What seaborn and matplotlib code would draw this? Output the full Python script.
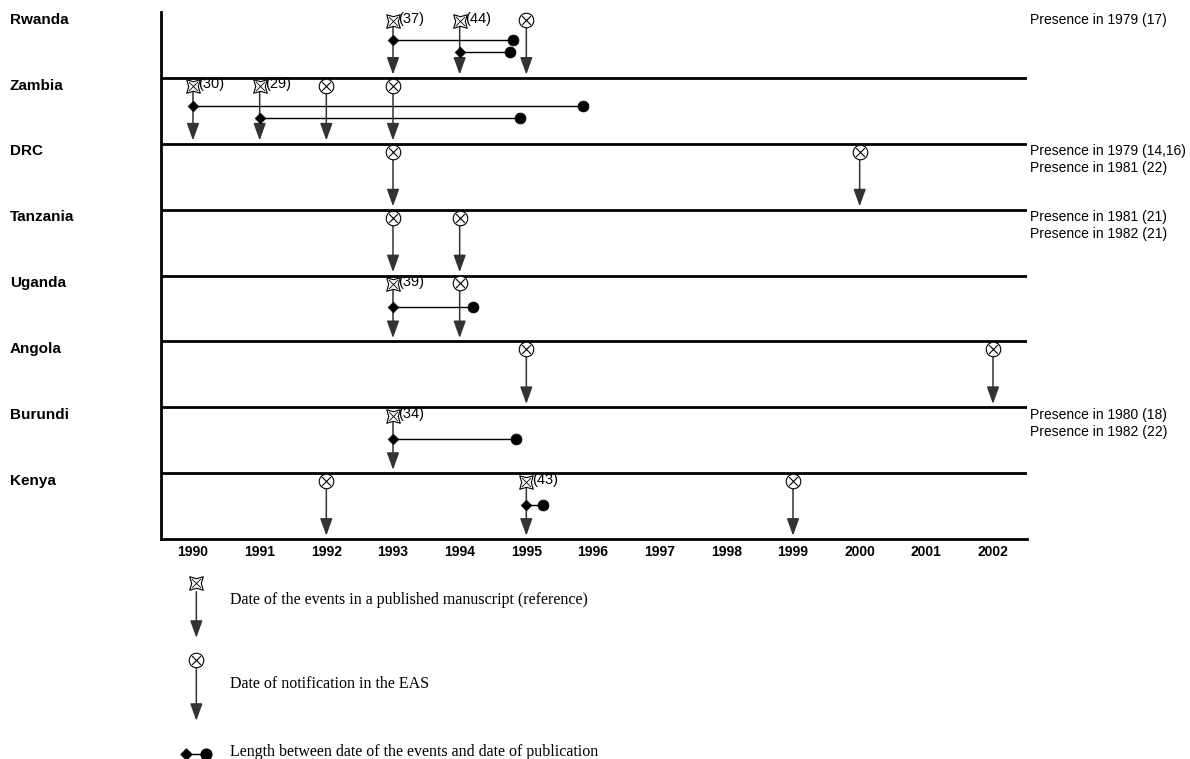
import numpy as np
import pandas as pd
import matplotlib
matplotlib.use("Agg")
import matplotlib.pyplot as plt
import seaborn as sns

# ---------------- data ----------------
countries = ["Rwanda", "Zambia", "DRC", "Tanzania", "Uganda", "Angola", "Burundi", "Kenya"]
years = list(range(1990, 2003))

# date of the events in a published manuscript (reference) and its publication date
ref_country = ["Rwanda", "Rwanda", "Zambia", "Zambia", "Uganda", "Burundi", "Kenya"]
ref_year = [1993, 1994, 1990, 1991, 1993, 1993, 1995]
ref_publication = [1994.8, 1994.75, 1995.85, 1994.9, 1994.2, 1994.85, 1995.25]
ref_number = ["(37)", "(44)", "(30)", "(29)", "(39)", "(34)", "(43)"]

# date of notification in the EAS
eas_country = ["Rwanda", "Zambia", "Zambia", "DRC", "DRC", "Tanzania", "Tanzania",
               "Uganda", "Angola", "Angola", "Kenya", "Kenya"]
eas_year = [1995, 1992, 1993, 1993, 2000, 1993, 1994, 1994, 1995, 2002, 1992, 1999]

presence_country = ["Rwanda", "DRC", "Tanzania", "Burundi"]
presence_text = [
    ["Presence in 1979 (17)"],
    ["Presence in 1979 (14,16)", "Presence in 1981 (22)"],
    ["Presence in 1981 (21)", "Presence in 1982 (21)"],
    ["Presence in 1980 (18)", "Presence in 1982 (22)"],
]

legend_text = [
    "Date of the events in a published manuscript (reference)",
    "Date of notification in the EAS",
    "Length between date of the events and date of publication",
]

# ---------------- style ----------------
sns.set_style("white")
plt.rcParams["font.family"] = ["Liberation Sans", "DejaVu Sans"]
plt.rcParams["text.color"] = "black"
plt.rcParams["xtick.color"] = "black"
plt.rcParams["axes.labelcolor"] = "black"

fig = plt.figure(figsize=(11.9, 7.59), dpi=100)
ax = fig.add_axes([161 / 1190, 1 - 539 / 759, (1027 - 161) / 1190, (539 - 12) / 759])

n = len(countries)
row_top = {c: n - i for i, c in enumerate(countries)}

ax.set_xlim(1989.52, 2002.51)
ax.set_ylim(0, n)

# separators
for k in range(1, n):
    ax.axhline(k, color="black", lw=2, zorder=1)

for s in ["top", "right"]:
    ax.spines[s].set_visible(False)
for s in ["left", "bottom"]:
    ax.spines[s].set_linewidth(2)
    ax.spines[s].set_color("black")

arrow_kw = dict(arrowstyle="-|>,head_length=0.75,head_width=0.27",
                color="#333333", lw=1.1, mutation_scale=14, shrinkA=0, shrinkB=0)

# ---- reference events ----
stack = {}
rows = []
for c, y0, y1, lab in zip(ref_country, ref_year, ref_publication, ref_number):
    k = stack.get(c, 0)
    stack[c] = k + 1
    rows.append(dict(country=c, year=y0, pub=y1, label=lab, k=k))
ref_df = pd.DataFrame(rows)
count = ref_df.groupby("country")["k"].transform("max") + 1
top = ref_df["country"].map(row_top)
ref_df["star_y"] = top - 0.13
ref_df["dia_y"] = np.where(count > 1, top - 0.42 - 0.19 * ref_df["k"], top - 0.48)
ref_df["bottom"] = top - 1

for _, r in ref_df.iterrows():
    ax.annotate("", xy=(r["year"], r["bottom"] + 0.05), xytext=(r["year"], r["star_y"] - 0.08),
                arrowprops=arrow_kw, zorder=2)
    ax.plot([r["year"], r["pub"]], [r["dia_y"], r["dia_y"]], color="black", lw=1, zorder=2)
    ax.text(r["year"] + 0.08, r["star_y"] + 0.03, r["label"], fontsize=10.5, ha="left",
            va="center", zorder=4)

sns.scatterplot(data=ref_df, x="year", y="star_y", marker=(4, 1, 45), s=190,
                color="white", edgecolor="black", linewidth=0.8, ax=ax, zorder=4, legend=False)
sns.scatterplot(data=ref_df, x="year", y="star_y", marker="x", s=45,
                color="black", linewidth=0.6, ax=ax, zorder=5, legend=False)
sns.scatterplot(data=ref_df, x="year", y="dia_y", marker="D", s=30,
                color="black", edgecolor="black", ax=ax, zorder=5, legend=False)
sns.scatterplot(data=ref_df, x="pub", y="dia_y", marker="o", s=60,
                color="black", edgecolor="black", ax=ax, zorder=5, legend=False)

# ---- EAS notifications ----
eas_df = pd.DataFrame(dict(country=eas_country, year=eas_year))
eas_df["top"] = eas_df["country"].map(row_top)
eas_df["y"] = eas_df["top"] - 0.12
for _, r in eas_df.iterrows():
    ax.annotate("", xy=(r["year"], r["top"] - 1 + 0.05), xytext=(r["year"], r["y"] - 0.12),
                arrowprops=arrow_kw, zorder=2)
sns.scatterplot(data=eas_df, x="year", y="y", marker="o", s=110, color="white",
                edgecolor="black", linewidth=0.8, ax=ax, zorder=4, legend=False)
sns.scatterplot(data=eas_df, x="year", y="y", marker="x", s=40, color="black",
                linewidth=0.8, ax=ax, zorder=5, legend=False)

# axes cosmetics (after seaborn, which sets labels)
ax.set_xticks(years)
ax.set_xticklabels([str(y) for y in years], fontweight="bold", fontsize=10)
ax.set_yticks([])
ax.tick_params(axis="x", length=0, pad=4)
ax.set_xlabel("")
ax.set_ylabel("")

# ---- country labels ----
for c in countries:
    ax.text(-151 / 866, row_top[c] - 0.01, c, transform=ax.get_yaxis_transform(),
            fontsize=11, fontweight="bold", ha="left", va="top")

# ---- presence labels ----
for c, lines in zip(presence_country, presence_text):
    ax.text(1 + 3 / 866, row_top[c] - 0.01, "\n".join(lines), transform=ax.get_yaxis_transform(),
            fontsize=10, ha="left", va="top", linespacing=1.25)

# ---- legend (below the axes) ----
lx = 1990.05
serif = ["Liberation Serif", "DejaVu Serif"]
ax.scatter([lx], [-0.67], marker=(4, 1, 45), s=190, color="white", edgecolor="black",
           linewidth=0.8, clip_on=False, zorder=4)
ax.scatter([lx], [-0.67], marker="x", s=45, color="black", linewidth=0.6, clip_on=False, zorder=5)
ax.annotate("", xy=(lx, -1.5), xytext=(lx, -0.8), arrowprops=arrow_kw, annotation_clip=False)
ax.text(1990.55, -0.93, legend_text[0], fontsize=11.5, family=serif, va="center", ha="left")

ax.scatter([lx], [-1.83], marker="o", s=110, color="white", edgecolor="black",
           linewidth=0.8, clip_on=False, zorder=4)
ax.scatter([lx], [-1.83], marker="x", s=40, color="black", linewidth=0.8, clip_on=False, zorder=5)
ax.annotate("", xy=(lx, -2.76), xytext=(lx, -1.97), arrowprops=arrow_kw, annotation_clip=False)
ax.text(1990.55, -2.2, legend_text[1], fontsize=11.5, family=serif, va="center", ha="left")

ax.plot([1989.9, 1990.2], [-3.27, -3.27], color="black", lw=1, clip_on=False)
ax.scatter([1989.9], [-3.27], marker="D", s=30, color="black", clip_on=False, zorder=5)
ax.scatter([1990.2], [-3.27], marker="o", s=60, color="black", clip_on=False, zorder=5)
ax.text(1990.55, -3.23, legend_text[2], fontsize=11.5, family=serif, va="center", ha="left")

fig.savefig("out.png", dpi=100)
